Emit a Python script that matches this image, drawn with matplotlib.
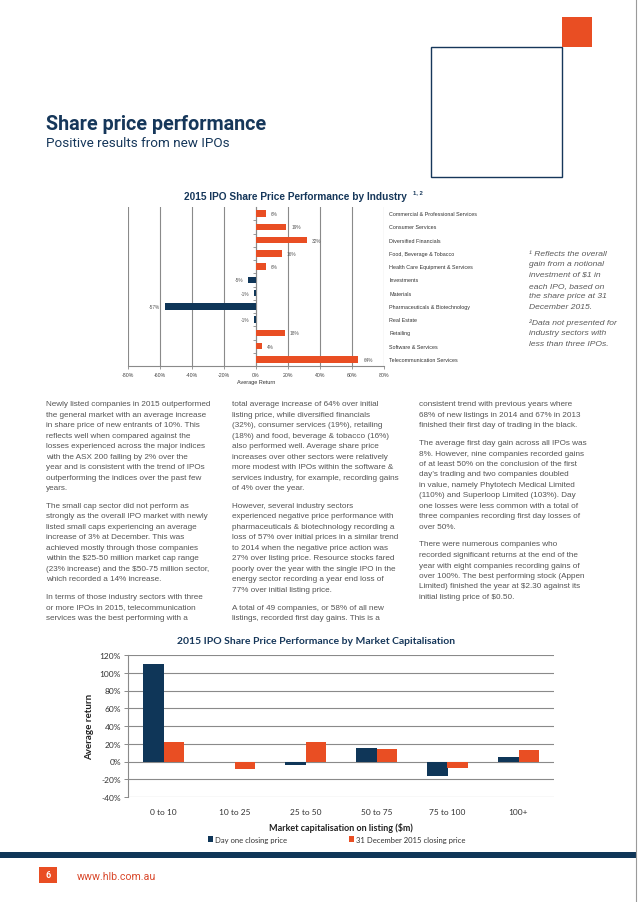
import matplotlib
matplotlib.use("Agg")
import matplotlib.pyplot as plt
import matplotlib.transforms as mtransforms
from matplotlib.patches import Rectangle
from matplotlib.lines import Line2D
import numpy as np

# ---------------- data ----------------
industries = [
    "Commercial & Professional Services",
    "Consumer Services",
    "Diversified Financials",
    "Food, Beverage & Tobacco",
    "Health Care Equipment & Services",
    "Investments",
    "Materials",
    "Pharmaceuticals & Biotechnology",
    "Real Estate",
    "Retailing",
    "Software & Services",
    "Telecommunication Services",
]
industry_returns = [6, 19, 32, 16, 6, -5, -1, -57, -1, 18, 4, 64]
industry_xticks = [-80, -60, -40, -20, 0, 20, 40, 60, 80]

cap_bands = ["0 to 10", "10 to 25", "25 to 50", "50 to 75", "75 to 100", "100+"]
day_one_close = [110, -1, -4.5, 15, -16.5, 5]
dec31_close = [22, -8, 22, 14, -7, 13]
cap_yticks = [-40, -20, 0, 20, 40, 60, 80, 100, 120]
legend_labels = ["Day one closing price", "31 December 2015 closing price"]

col1 = [
    ["Newly listed companies in 2015 outperformed",
     "the general market with an average increase",
     "in share price of new entrants of 10%. This",
     "reflects well when compared against the",
     "losses experienced across the major indices",
     "with the ASX 200 falling by 2% over the",
     "year and is consistent with the trend of IPOs",
     "outperforming the indices over the past few",
     "years."],
    ["The small cap sector did not perform as",
     "strongly as the overall IPO market with newly",
     "listed small caps experiencing an average",
     "increase of 3% at December. This was",
     "achieved mostly through those companies",
     "within the $25-50 million market cap range",
     "(23% increase) and the $50-75 million sector,",
     "which recorded a 14% increase."],
    ["In terms of those industry sectors with three",
     "or more IPOs in 2015, telecommunication",
     "services was the best performing with a"],
]
col2 = [
    ["total average increase of 64% over initial",
     "listing price, while diversified financials",
     "(32%), consumer services (19%), retailing",
     "(18%) and food, beverage & tobacco (16%)",
     "also performed well. Average share price",
     "increases over other sectors were relatively",
     "more modest with IPOs within the software &",
     "services industry, for example, recording gains",
     "of 4% over the year."],
    ["However, several industry sectors",
     "experienced negative price performance with",
     "pharmaceuticals & biotechnology recording a",
     "loss of 57% over initial prices in a similar trend",
     "to 2014 when the negative price action was",
     "27% over listing price. Resource stocks fared",
     "poorly over the year with the single IPO in the",
     "energy sector recording a year end loss of",
     "77% over initial listing price."],
    ["A total of 49 companies, or 58% of all new",
     "listings, recorded first day gains. This is a"],
]
col3 = [
    ["consistent trend with previous years where",
     "68% of new listings in 2014 and 67% in 2013",
     "finished their first day of trading in the black."],
    ["The average first day gain across all IPOs was",
     "8%. However, nine companies recorded gains",
     "of at least 50% on the conclusion of the first",
     "day\u2019s trading and two companies doubled",
     "in value, namely Phytotech Medical Limited",
     "(110%) and Superloop Limited (103%). Day",
     "one losses were less common with a total of",
     "three companies recording first day losses of",
     "over 50%."],
    ["There were numerous companies who",
     "recorded significant returns at the end of the",
     "year with eight companies recording gains of",
     "over 100%. The best performing stock (Appen",
     "Limited) finished the year at $2.30 against its",
     "initial listing price of $0.50."],
]
footnote1 = ["\u00b9 Reflects the overall", "gain from a notional", "investment of $1 in",
             "each IPO, based on", "the share price at 31", "December 2015."]
footnote2 = ["\u00b2Data not presented for", "industry sectors with", "less than three IPOs."]

# ---------------- styling ----------------
W, H = 638, 903
NAVY = "#16375a"
ORANGE = "#e94e23"
BAR_NAVY = "#0f3658"
BODY = "#555555"
GRID = "#8a8a8a"


def fx(x):
    return x / W


def fy(y):
    return 1 - y / H


def box(l, t, r, b):
    return [fx(l), fy(b), (r - l) / W, (b - t) / H]


fig = plt.figure(figsize=(W / 100, H / 100), dpi=100)
fig.patch.set_facecolor("white")

# page decorations
fig.add_artist(Line2D([fx(636), fx(636)], [0, 1], color="#9a9a9a", lw=0.8))
fig.add_artist(Rectangle((fx(431), fy(178)), 131 / W, 130 / H, fill=False,
                         edgecolor=NAVY, lw=1.0))
fig.add_artist(Rectangle((fx(562), fy(48)), 30 / W, 30 / H, facecolor=ORANGE,
                         edgecolor="none"))
fig.add_artist(Rectangle((0, fy(859)), 636 / W, 6 / H, facecolor="#0f3658",
                         edgecolor="none"))
fig.add_artist(Rectangle((fx(39), fy(884)), 18 / W, 16 / H, facecolor=ORANGE,
                         edgecolor="none"))
fig.text(fx(48), fy(876), "6", color="white", fontsize=6.5, fontweight="bold",
         family="Roboto", ha="center", va="center")
fig.text(fx(77), fy(877), "www.hlb.com.au", color="#d9482b", fontsize=7.7,
         family="Roboto", ha="left", va="center")

# header
fig.text(fx(46), fy(130), "Share price performance", color=NAVY, fontsize=14.2,
         fontweight="bold", family="Roboto", ha="left", va="baseline")
fig.text(fx(46), fy(147), "Positive results from new IPOs", color=NAVY,
         fontsize=9.7, family="Roboto", ha="left", va="baseline")

# ---------------- industry chart ----------------
ax1 = fig.add_axes(box(128, 208, 384, 367))
ypos = np.arange(len(industries))
colors = [ORANGE if v >= 0 else BAR_NAVY for v in industry_returns]
ax1.barh(ypos, industry_returns, height=0.5, color=colors, zorder=3)
ax1.set_xlim(-80, 80)
ax1.set_ylim(len(industries) - 0.5, -0.5)
ax1.set_xticks(industry_xticks)
ax1.set_xticklabels([f"{t}%" for t in industry_xticks], fontsize=3.8,
                    color="#444", family="Liberation Sans")
ax1.tick_params(axis="x", length=2, width=0.6, color=GRID, pad=2)
ax1.grid(axis="x", color=GRID, lw=0.8, zorder=0)
for s in ["top", "right"]:
    ax1.spines[s].set_visible(False)
ax1.spines["bottom"].set_color(GRID)
ax1.spines["bottom"].set_linewidth(0.8)
ax1.spines["left"].set_position(("data", 0))
ax1.spines["left"].set_color(GRID)
ax1.spines["left"].set_linewidth(0.8)
ax1.set_yticks([])
ax1.set_yticks(ypos[:-1] + 0.5, minor=True)
ax1.tick_params(axis="y", which="minor", length=2, width=0.6, color=GRID)
ax1.set_facecolor("none")
for i, v in enumerate(industry_returns):
    ax1.annotate(f"{v}%", (v, i), xytext=(3.5 if v >= 0 else -3.5, 0),
                 textcoords="offset points", ha="left" if v >= 0 else "right",
                 va="center", fontsize=3.4, color="#555", family="Liberation Sans")
lab_tr = mtransforms.blended_transform_factory(ax1.transAxes, ax1.transData)
for i, name in enumerate(industries):
    ax1.text(1.02, i, name, transform=lab_tr, ha="left", va="center",
             fontsize=3.9, color="#333", family="Liberation Sans")
ax1.set_xlabel("Average Return", fontsize=4.0, color="#333",
               family="Liberation Sans", labelpad=1.5)
fig.text(fx(295), fy(197), "2015 IPO Share Price Performance by Industry",
         color=NAVY, fontsize=7.3, fontweight="bold", family="Liberation Sans",
         ha="center", va="center")
fig.text(fx(413), fy(193), "1, 2", color=NAVY, fontsize=4.2, fontweight="bold",
         family="Liberation Sans", ha="left", va="center")

# footnotes
for k, line in enumerate(footnote1):
    fig.text(fx(529), fy(254 + k * 10.7), line, fontsize=6.1, style="italic",
             color="#5a5a5a", family="Liberation Sans", ha="left", va="center")
for k, line in enumerate(footnote2):
    fig.text(fx(529), fy(323 + k * 10.7), line, fontsize=6.1, style="italic",
             color="#5a5a5a", family="Liberation Sans", ha="left", va="center")

# ---------------- body text ----------------
LS = 10.5
PG = 17.5


def write_column(x, y0, paras):
    y = y0
    for p in paras:
        for line in p:
            fig.text(fx(x), fy(y), line, fontsize=5.9, color=BODY,
                     family="Liberation Sans", ha="left", va="center")
            y += LS
        y += PG - LS


write_column(46, 405, col1)
write_column(232, 405, col2)
write_column(419, 405, col3)

# ---------------- market cap chart ----------------
ax2 = fig.add_axes(box(128, 656, 554, 798))
xc = np.arange(len(cap_bands))
bw = 0.29
ax2.bar(xc - bw / 2, day_one_close, width=bw, color=BAR_NAVY, zorder=3,
        label=legend_labels[0])
ax2.bar(xc + bw / 2, dec31_close, width=bw, color=ORANGE, zorder=3,
        label=legend_labels[1])
ax2.set_xlim(-0.5, len(cap_bands) - 0.5)
ax2.set_ylim(cap_yticks[0], cap_yticks[-1])
ax2.set_yticks(cap_yticks)
ax2.set_yticklabels([f"{t}%" for t in cap_yticks], fontsize=6, color="#333",
                    family="Lato")
ax2.set_xticks(xc)
ax2.set_xticklabels(cap_bands, fontsize=6, color="#333", family="Lato")
ax2.tick_params(axis="x", length=0, pad=8)
ax2.tick_params(axis="y", length=3, width=0.7, color=GRID, pad=2)
ax2.grid(axis="y", color=GRID, lw=0.8, zorder=0)
for s in ["top", "right", "bottom"]:
    ax2.spines[s].set_visible(False)
ax2.spines["left"].set_color(GRID)
ax2.spines["left"].set_linewidth(0.8)
ax2.set_ylabel("Average return", fontsize=7, fontweight="bold", color="#222",
               family="Lato", labelpad=4)
ax2.set_xlabel("Market capitalisation on listing ($m)", fontsize=6.5,
               fontweight="bold", color="#222", family="Lato", labelpad=5)
ax2.set_facecolor("none")
leg = ax2.legend(loc="upper center", bbox_to_anchor=(0.49, -0.225), ncol=2,
                 frameon=False, handlelength=0.7, handleheight=0.7,
                 handletextpad=0.3, columnspacing=8,
                 prop={"family": "Lato", "size": 5.5})
for t in leg.get_texts():
    t.set_color("#333")
fig.text(fx(316), fy(641), "2015 IPO Share Price Performance by Market Capitalisation",
         color=NAVY, fontsize=7.5, fontweight="bold", family="Lato",
         ha="center", va="center")

fig.savefig("out.png", dpi=100, facecolor="white")
